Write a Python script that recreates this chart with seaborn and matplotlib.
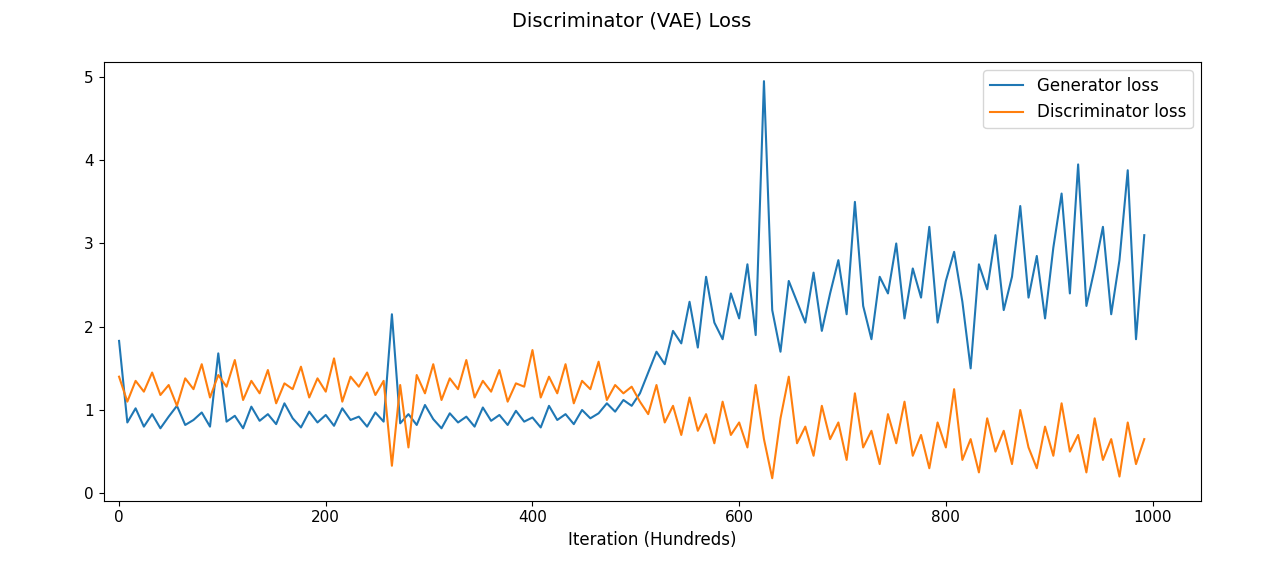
import numpy as np
import pandas as pd
import matplotlib
matplotlib.use("Agg")
import matplotlib.pyplot as plt
import seaborn as sns

gen_loss = [1.83,0.85,1.02,0.80,0.95,0.78,0.92,1.05,0.82,0.88,0.97,0.80,1.68,0.86,0.93,0.78,1.04,0.87,0.95,0.83,
            1.08,0.90,0.79,0.98,0.85,0.94,0.81,1.02,0.88,0.92,0.80,0.97,0.86,2.15,0.84,0.95,0.82,1.06,0.89,0.78,
            0.96,0.85,0.92,0.80,1.03,0.87,0.94,0.82,0.99,0.86,0.91,0.79,1.05,0.88,0.95,0.83,1.00,0.90,0.96,1.08,
            0.98,1.12,1.05,
            1.20,1.45,1.70,1.55,1.95,1.80,2.30,1.75,2.60,2.05,1.85,2.40,2.10,2.75,1.90,4.95,2.20,1.70,2.55,2.30,
            2.05,2.65,1.95,2.40,2.80,2.15,3.50,2.25,1.85,2.60,2.40,3.00,2.10,2.70,2.35,3.20,2.05,2.55,2.90,2.30,
            1.50,2.75,2.45,3.10,2.20,2.60,3.45,2.35,2.85,2.10,2.95,3.60,2.40,3.95,2.25,2.70,3.20,2.15,2.80,3.88,
            1.85,3.10]
disc_loss = [1.40,1.10,1.35,1.22,1.45,1.18,1.30,1.05,1.38,1.25,1.55,1.15,1.42,1.28,1.60,1.12,1.35,1.20,1.48,1.08,
             1.32,1.25,1.52,1.15,1.38,1.22,1.62,1.10,1.40,1.28,1.45,1.18,1.35,0.33,1.30,0.55,1.42,1.20,1.55,1.12,
             1.38,1.25,1.60,1.15,1.35,1.22,1.48,1.10,1.32,1.28,1.72,1.15,1.40,1.20,1.55,1.08,1.35,1.25,1.58,1.12,
             1.30,1.20,1.28,
             1.10,0.95,1.30,0.85,1.05,0.70,1.15,0.75,0.95,0.60,1.10,0.70,0.85,0.55,1.30,0.65,0.18,0.90,1.40,0.60,
             0.80,0.45,1.05,0.65,0.85,0.40,1.20,0.55,0.75,0.35,0.95,0.60,1.10,0.45,0.70,0.30,0.85,0.55,1.25,0.40,
             0.65,0.25,0.90,0.50,0.75,0.35,1.00,0.55,0.30,0.80,0.45,1.08,0.50,0.70,0.25,0.90,0.40,0.65,0.20,0.85,
             0.35,0.65]

df_gen = pd.DataFrame({"iter": np.arange(len(gen_loss)) * 8, "loss": gen_loss})
df_disc = pd.DataFrame({"iter": np.arange(len(disc_loss)) * 8, "loss": disc_loss})

fig = plt.figure(figsize=(12.63, 5.69), dpi=100)
ax = fig.add_axes([0.082, 0.12, 0.869, 0.771])
sns.lineplot(data=df_gen, x="iter", y="loss", ax=ax, color="#1f77b4", label="Generator loss", linewidth=1.5)
sns.lineplot(data=df_disc, x="iter", y="loss", ax=ax, color="#ff7f0e", label="Discriminator loss", linewidth=1.5)

ax.set_xlim(-15, 1047)
ax.set_ylim(-0.09, 5.18)
ax.set_xlabel("Iteration (Hundreds)", fontsize=12)
ax.set_ylabel("")
ax.tick_params(labelsize=11)
ax.legend(loc="upper right", fontsize=12)
fig.suptitle("Discriminator (VAE) Loss", fontsize=14, y=0.98)

fig.savefig("out.png")
